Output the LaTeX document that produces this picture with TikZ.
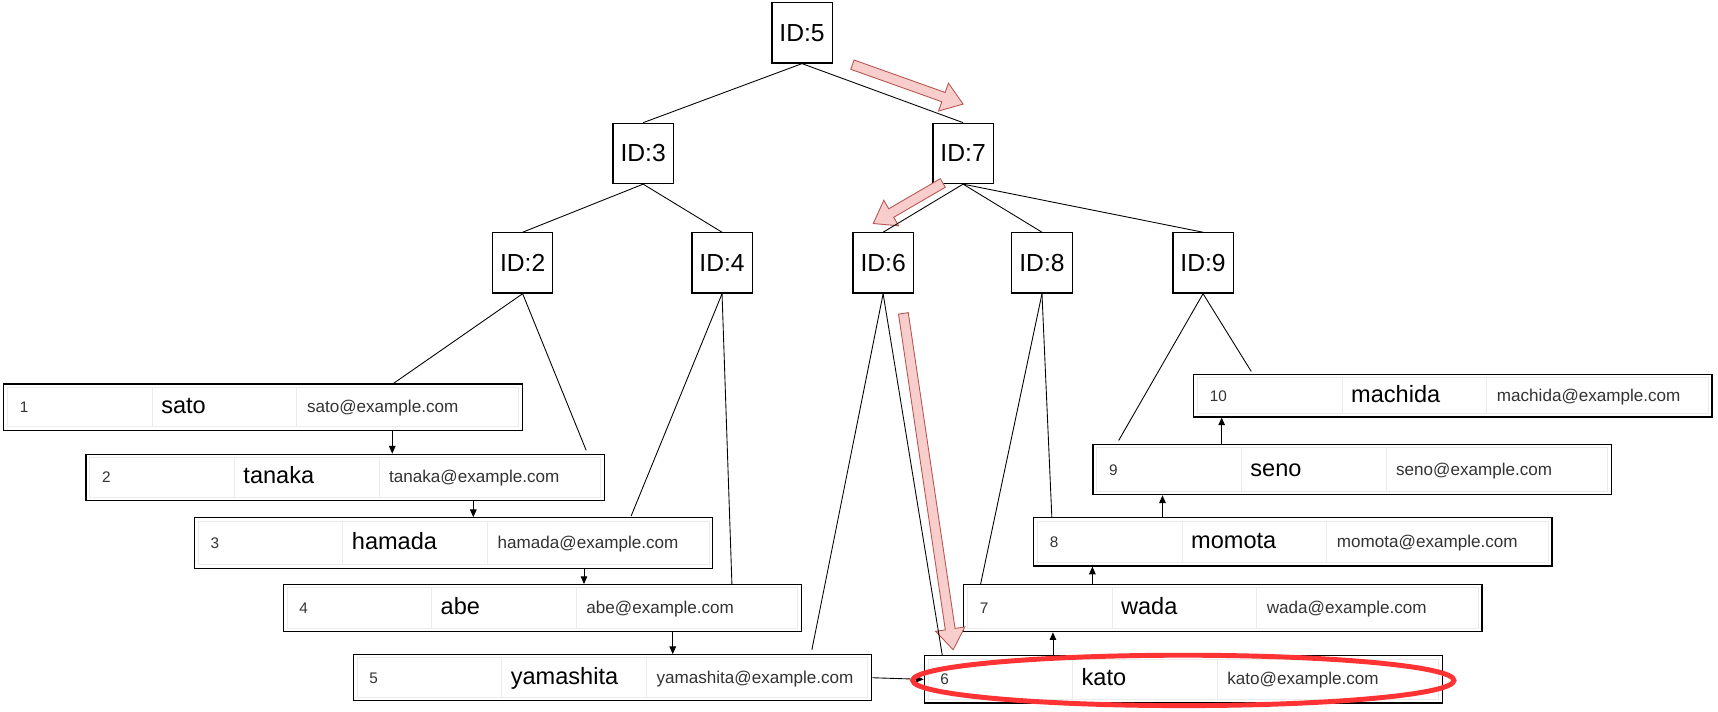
\documentclass[tikz,border=0pt]{standalone}
\usepackage{fontspec}
\setmainfont{Liberation Sans}
\usetikzlibrary{calc,arrows.meta,shapes.geometric}
\definecolor{pinkfill}{HTML}{F8CECC}
\definecolor{pinkline}{HTML}{B85450}
\definecolor{hlred}{HTML}{FF3333}
\definecolor{cellgray}{HTML}{EBEBEB}
\definecolor{txtgray}{HTML}{333333}
\tikzset{
 idbox/.style={draw=black, line width=1.1pt, minimum width=55pt, minimum height=55pt, inner sep=0pt, font=\fontsize{22.5}{26}\selectfont},
 rowbox/.style={draw=black, line width=1.1pt, fill=white, anchor=north west, minimum width=473pt, inner sep=0pt},
 treeedge/.style={draw=black, line width=0.8pt},
 rowarrow/.style={draw=black, line width=0.8pt, -{Triangle[width=6pt,length=7pt]}},
 numtxt/.style={anchor=base west, inner sep=0pt, text=txtgray, font=\fontsize{14}{16}\selectfont},
 nametxt/.style={anchor=base west, inner sep=0pt, text=black, font=\fontsize{21.5}{24}\selectfont},
 mailtxt/.style={anchor=base west, inner sep=0pt, text=txtgray, font=\fontsize{15.6}{18}\selectfont},
 cellline/.style={draw=cellgray, line width=0.9pt},
 pinkarr/.style={fill=pinkfill, draw=pinkline, line width=0.8pt, line join=miter},
 hlellipse/.style={draw=hlred, line width=4.5pt, ellipse, inner sep=0pt, minimum width=494pt, minimum height=46pt},
}
\newcommand{\dbrow}[7]{%
 \node[rowbox, minimum height=#4pt] (#1) at (#2,#3) {};
 \draw[cellline] ($(#1.north west)+(4,3.5)$) rectangle ($(#1.south east)+(-4,-3.5)$);
 \draw[cellline] ($(#1.north west)+(136,3.5)$) -- ($(#1.south west)+(136,-3.5)$);
 \draw[cellline] ($(#1.north west)+(268,3.5)$) -- ($(#1.south west)+(268,-3.5)$);
 \node[numtxt] (#1num) at ($(#1.west)+(15,5)$) {#5};
 \node[nametxt] (#1name) at ($(#1.west)+(144,6)$) {#6};
 \node[mailtxt] (#1mail) at ($(#1.west)+(277,5)$) {#7};
}
\newcommand{\pinkarrow}[2]{%
 \coordinate (#1b) at ($(#2)!19pt!(#1)$);
 \filldraw[pinkarr] ($(#1)!4.5pt!90:(#2)$) -- ($(#1b)!4.5pt!90:(#2)$) -- ($(#1b)!13.5pt!90:(#2)$) -- (#2)
   -- ($(#1b)!13.5pt!-90:(#2)$) -- ($(#1b)!4.5pt!-90:(#2)$) -- ($(#1)!4.5pt!-90:(#2)$) -- cycle;
}
\begin{document}
\begin{tikzpicture}[x=1pt,y=-1pt]
\useasboundingbox (0,0) rectangle (1568,649);
% ID nodes
\node[idbox] (id5) at (732,30) {ID:5};
\node[idbox] (id3) at (587,140) {ID:3};
\node[idbox] (id7) at (879,140) {ID:7};
\node[idbox] (id2) at (477,240) {ID:2};
\node[idbox] (id4) at (659,240) {ID:4};
\node[idbox] (id6) at (806,240) {ID:6};
\node[idbox] (id8) at (951,240) {ID:8};
\node[idbox] (id9) at (1098,240) {ID:9};
% rows
\dbrow{r1}{3}{350}{42}{1}{sato}{sato@example.com}
\dbrow{r2}{78}{414}{42}{2}{tanaka}{tanaka@example.com}
\dbrow{r3}{177}{472}{46}{3}{hamada}{hamada@example.com}
\dbrow{r4}{258}{533}{43}{4}{abe}{abe@example.com}
\dbrow{r5}{322}{597}{42}{5}{yamashita}{yamashita@example.com}
\dbrow{r6}{843}{598}{43}{6}{kato}{kato@example.com}
\dbrow{r7}{879}{533}{43}{7}{wada}{wada@example.com}
\dbrow{r8}{943}{472}{44}{8}{momota}{momota@example.com}
\dbrow{r9}{997}{405}{46}{9}{seno}{seno@example.com}
\dbrow{r10}{1089}{341}{39}{10}{machida}{machida@example.com}
% pink arrows
\coordinate (p1t) at (778,59); \coordinate (p1h) at (879,95);
\coordinate (p2t) at (860.5,167); \coordinate (p2h) at (797,204);
\coordinate (p3t) at (824.5,286); \coordinate (p3h) at (870,593);
\pinkarrow{p1t}{p1h}
\pinkarrow{p2t}{p2h}
\pinkarrow{p3t}{p3h}
% tree edges
\draw[treeedge] (id5.south) -- (id3.north);
\draw[treeedge] (id5.south) -- (id7.north);
\draw[treeedge] (id3.south) -- (id2.north);
\draw[treeedge] (id3.south) -- (id4.north);
\draw[treeedge] (id7.south) -- (id6.north);
\draw[treeedge] (id7.south) -- (id8.north);
\draw[treeedge] (id7.south) -- (id9.north);
\coordinate (e2a) at ($(r1.north west)+(356,0)$);
\coordinate (e2b) at ($(r2.north west)+(457,-3)$);
\coordinate (e4a) at ($(r3.north west)+(399,-1)$);
\coordinate (e4b) at ($(r4.north west)+(410,0)$);
\coordinate (e6a) at ($(r5.north west)+(419,-4)$);
\coordinate (e6b) at ($(r6.north west)+(17,0)$);
\coordinate (e8a) at ($(r7.north west)+(16,0)$);
\coordinate (e8b) at ($(r8.north west)+(17,0)$);
\coordinate (e9a) at ($(r9.north west)+(24,-3)$);
\coordinate (e9b) at ($(r10.north west)+(53,-2)$);
\draw[treeedge] (id2.south) -- (e2a);
\draw[treeedge] (id2.south) -- (e2b);
\draw[treeedge] (id4.south) -- (e4a);
\draw[treeedge] (id4.south) -- (e4b);
\draw[treeedge] (id6.south) -- (e6a);
\draw[treeedge] (id6.south) -- (e6b);
\draw[treeedge] (id8.south) -- (e8a);
\draw[treeedge] (id8.south) -- (e8b);
\draw[treeedge] (id9.south) -- (e9a);
\draw[treeedge] (id9.south) -- (e9b);
% row arrows
\coordinate (a12) at ($(r1.south west)+(355,0)$);
\coordinate (a23) at ($(r2.south west)+(354,0)$);
\coordinate (a34) at ($(r3.south west)+(356,0)$);
\coordinate (a45) at ($(r4.south west)+(356,0)$);
\coordinate (a67) at ($(r6.north west)+(118,0)$);
\coordinate (a78) at ($(r7.north west)+(118,0)$);
\coordinate (a89) at ($(r8.north west)+(118,0)$);
\coordinate (a910) at ($(r9.north west)+(118,0)$);
\draw[rowarrow] (a12) -- (a12 |- r2.north);
\draw[rowarrow] (a23) -- (a23 |- r3.north);
\draw[rowarrow] (a34) -- (a34 |- r4.north);
\draw[rowarrow] (a45) -- (a45 |- r5.north);
\draw[rowarrow] (r5.east) -- (r6.west);
\draw[rowarrow] (a67) -- (a67 |- r7.south);
\draw[rowarrow] (a78) -- (a78 |- r8.south);
\draw[rowarrow] (a89) -- (a89 |- r9.south);
\draw[rowarrow] (a910) -- (a910 |- r10.south);
% highlight
\node[hlellipse] (hl) at (1080,621) {};
\end{tikzpicture}
\end{document}
